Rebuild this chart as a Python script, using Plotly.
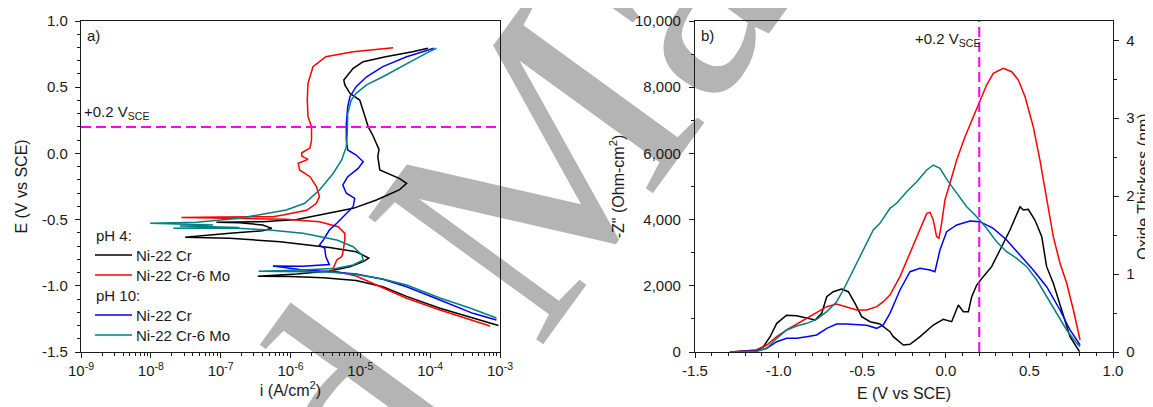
"""Potentiodynamic polarization (a) and -Z'' / oxide thickness vs potential (b)."""

import plotly.graph_objects as go

FONT = "Liberation Sans, Arial, sans-serif"
W, H = 1153, 407
PAGE_PAD = 8  # default <body> margin of the html page

# ---------------- panel a) polarization curves: i (A/cm2), E (V vs SCE) ----------------
ph4_cr_i = [9.5e-4, 4.1e-4, 1.38e-4, 4.6e-5, 2.1e-5, 8.7e-6, 2.95e-6, 9.8e-7, 3.4e-7,
            1.23e-6, 3.6e-6, 7.1e-6, 1.1e-5, 1.32e-5, 8.7e-6, 3.6e-6, 7.1e-7, 1.35e-7, 3.1e-8,
            1.35e-7, 4.0e-7, 5.4e-7, 4.0e-7, 1.86e-7, 8.7e-8,
            4.0e-7, 1.23e-6, 2.6e-6, 7.9e-6, 1.7e-5, 3.6e-5, 4.6e-5, 3.6e-5, 1.9e-5, 1.78e-5,
            1.85e-5, 1.7e-5, 1.5e-5, 1.3e-5, 1.1e-5, 9.8e-6, 7.1e-6, 6.0e-6, 5.8e-6, 6.6e-6,
            7.9e-6, 1.1e-5, 2.3e-5, 5.6e-5, 9.3e-5]
ph4_cr_e = [-1.30, -1.245, -1.17, -1.08, -1.007, -0.96, -0.94, -0.93, -0.927,
            -0.91, -0.888, -0.856, -0.818, -0.79, -0.743, -0.71, -0.667, -0.641, -0.634,
            -0.604, -0.584, -0.566, -0.541, -0.523, -0.520,
            -0.516, -0.50, -0.465, -0.415, -0.352, -0.276, -0.226, -0.188, -0.125, -0.025,
            0.03, 0.076, 0.139, 0.20, 0.328, 0.403, 0.454, 0.517, 0.554, 0.592,
            0.643, 0.693, 0.730, 0.768, 0.794]

ph4_mo_i = [7.2e-4, 1.38e-4, 4.6e-5, 1.9e-5, 8.7e-6, 5.1e-6, 3.9e-6, 4.3e-6, 4.6e-6, 5.4e-6,
            5.6e-6, 6.0e-6, 6.0e-6, 4.8e-6, 2.6e-6, 8.7e-7, 2.95e-7, 1.0e-7, 2.75e-8,
            1.0e-7, 5.6e-7, 7.8e-7, 1.7e-6, 2.35e-6, 2.6e-6, 2.35e-6, 1.9e-6, 1.35e-6, 1.29e-6,
            1.78e-6, 1.45e-6, 1.45e-6, 1.9e-6, 2.0e-6, 2.0e-6, 1.78e-6, 1.74e-6, 1.78e-6, 2.1e-6,
            3.2e-6, 7.9e-6, 2.95e-5]
ph4_mo_e = [-1.304, -1.183, -1.094, -1.007, -0.926, -0.898, -0.886, -0.843, -0.805, -0.78,
            -0.755, -0.654, -0.604, -0.554, -0.516, -0.497, -0.492, -0.489, -0.485,
            -0.481, -0.478, -0.465, -0.43, -0.377, -0.327, -0.25, -0.176, -0.125, -0.075,
            -0.045, -0.02, 0.005, 0.04, 0.10, 0.202, 0.277, 0.403, 0.529, 0.655,
            0.730, 0.768, 0.798]

ph10_cr_i = [8.9e-4, 4.1e-4, 1.38e-4, 4.6e-5, 2.1e-5, 8.7e-6, 3.6e-6, 1.35e-6, 5.6e-7,
             1.5e-6, 3.6e-6, 3.2e-6, 3.1e-6, 2.6e-6, 2.95e-6, 3.6e-6, 4.6e-6, 6.3e-6, 7.9e-6,
             8.3e-6, 6.3e-6, 5.6e-6, 6.6e-6, 9.3e-6, 1.1e-5, 8.7e-6, 6.6e-6, 6.3e-6, 6.3e-6,
             6.6e-6, 7.1e-6, 8.7e-6, 1.23e-5, 2.1e-5, 4.6e-5, 8.7e-5, 1.12e-4]
ph10_cr_e = [-1.258, -1.208, -1.107, -1.007, -0.951, -0.911, -0.893, -0.877, -0.85,
             -0.852, -0.84, -0.78, -0.717, -0.692, -0.654, -0.579, -0.528, -0.452, -0.403,
             -0.339, -0.301, -0.239, -0.176, -0.113, -0.063, -0.012, 0.026, 0.101, 0.227,
             0.353, 0.428, 0.504, 0.579, 0.655, 0.730, 0.776, 0.794]

ph10_mo_i = [8.9e-4, 3.7e-4, 1.38e-4, 4.6e-5, 2.1e-5, 8.7e-6, 3.6e-6, 1.35e-6, 3.5e-7,
             1.51e-6, 4.6e-6, 7.9e-6, 1.1e-5, 1.05e-5, 7.9e-6, 4.6e-6, 1.51e-6, 5.0e-7, 1.7e-7,
             2.1e-8, 1.86e-7, 2.6e-8, 7.8e-8, 9.8e-9,
             4.5e-8, 1.86e-7, 5.0e-7, 8.7e-7, 1.6e-6, 2.6e-6, 4.1e-6, 5.4e-6, 6.3e-6, 6.5e-6,
             6.6e-6, 7.4e-6, 8.7e-6, 1.23e-5, 2.1e-5, 4.6e-5, 8.7e-5, 1.23e-4]
ph10_mo_e = [-1.243, -1.168, -1.092, -0.994, -0.949, -0.914, -0.896, -0.893, -0.890,
             -0.88, -0.868, -0.843, -0.805, -0.767, -0.705, -0.654, -0.603, -0.579, -0.566,
             -0.566, -0.559, -0.549, -0.541, -0.528,
             -0.52, -0.49, -0.452, -0.428, -0.377, -0.276, -0.15, -0.05, 0.05, 0.15,
             0.30, 0.403, 0.454, 0.517, 0.579, 0.68, 0.756, 0.794]

# ---------------- panel b) -Z'' (Ohm-cm2) vs E (V vs SCE) ----------------
zb_cr_e = [-1.291, -1.131, -1.091, -1.051, -1.011, -0.952, -0.892, -0.832, -0.782, -0.742,
           -0.712, -0.673, -0.623, -0.583, -0.543, -0.503, -0.453, -0.394, -0.334, -0.314,
           -0.254, -0.214, -0.154, -0.075, -0.015, 0.035, 0.075, 0.105, 0.135, 0.155,
           0.185, 0.224, 0.274, 0.324, 0.384, 0.444, 0.464, 0.493, 0.533, 0.574,
           0.603, 0.643, 0.703, 0.743, 0.80]
zb_cr_z = [0, 60, 160, 462, 867, 1109, 1097, 1036, 967, 1168,
           1671, 1822, 1903, 1822, 1471, 1067, 916, 846, 614, 463,
           211, 231, 463, 816, 987, 916, 1420, 1219, 1219, 1671,
           2024, 2276, 2578, 3081, 3686, 4390, 4290, 4310, 3988, 3484,
           2578, 2075, 1067, 463, 10]

zb_mo_e = [-1.291, -1.131, -1.071, -1.011, -0.952, -0.892, -0.832, -0.772, -0.712, -0.653,
           -0.593, -0.533, -0.473, -0.413, -0.374, -0.334, -0.274, -0.214, -0.154, -0.114,
           -0.094, -0.075, -0.055, -0.041, -0.025, -0.005, 0.025, 0.065, 0.115, 0.164,
           0.204, 0.244, 0.284, 0.344, 0.394, 0.434, 0.474, 0.523, 0.563, 0.603,
           0.643, 0.683, 0.723, 0.763, 0.803]
zb_mo_z = [0, 45, 211, 463, 665, 846, 1017, 1188, 1369, 1450,
           1369, 1269, 1269, 1369, 1520, 1722, 2276, 2980, 3686, 4189,
           4220, 3988, 3484, 3434, 3887, 4592, 5096, 5800, 6504, 7108,
           7613, 8066, 8419, 8571, 8469, 8217, 7713, 6806, 5800, 4592,
           3484, 2680, 2075, 1269, 363]

zb10_cr_e = [-1.291, -1.131, -1.071, -1.011, -0.952, -0.892, -0.832, -0.772, -0.712, -0.653,
             -0.593, -0.533, -0.473, -0.413, -0.374, -0.334, -0.274, -0.214, -0.154, -0.094,
             -0.065, -0.035, 0.005, 0.065, 0.145, 0.204, 0.284, 0.364, 0.444, 0.523,
             0.603, 0.683, 0.743, 0.803]
zb10_cr_z = [0, 30, 111, 312, 413, 413, 463, 514, 715, 846,
             846, 816, 806, 715, 816, 1168, 1873, 2427, 2527, 2477,
             2427, 3081, 3635, 3837, 3958, 3938, 3736, 3384, 2930, 2477,
             1973, 1269, 665, 211]

zb10_mo_e = [-1.291, -1.131, -1.071, -1.011, -0.952, -0.892, -0.832, -0.772, -0.712, -0.653,
             -0.613, -0.553, -0.493, -0.434, -0.394, -0.334, -0.294, -0.234, -0.174, -0.114,
             -0.075, -0.035, 0.015, 0.065, 0.125, 0.185, 0.244, 0.304, 0.364, 0.424,
             0.484, 0.544, 0.603, 0.663, 0.723, 0.783, 0.803]
zb10_mo_z = [0, 20, 111, 413, 665, 785, 866, 987, 1219, 1520,
             1873, 2477, 3081, 3686, 3887, 4340, 4492, 4843, 5145, 5498,
             5649, 5549, 5145, 4794, 4390, 4088, 3736, 3333, 3031, 2830,
             2578, 2175, 1671, 1168, 665, 262, 161]

# ---------------- ticks ----------------
i_ticks = [1e-9, 1e-8, 1e-7, 1e-6, 1e-5, 1e-4, 1e-3]
i_ticktext = ["10<sup>-9</sup>", "10<sup>-8</sup>", "10<sup>-7</sup>", "10<sup>-6</sup>",
              "10<sup>-5</sup>", "10<sup>-4</sup>", "10<sup>-3</sup>"]
e_ticks = [-1.5, -1.0, -0.5, 0.0, 0.5, 1.0]
e_ticktext = ["-1.5", "-1.0", "-0.5", "0.0", "0.5", "1.0"]
z_ticks = [0, 2000, 4000, 6000, 8000, 10000]
z_ticktext = ["0", "2,000", "4,000", "6,000", "8,000", "10,000"]
thick_ticks = [0, 1, 2, 3, 4]

E_MARK = 0.2  # +0.2 V_SCE reference potential

SERIES = [
    # label, group title, colour, panel a (i, E), panel b (E, Z)
    ("Ni-22 Cr", "pH 4:", "#000000", ph4_cr_i, ph4_cr_e, zb_cr_e, zb_cr_z),
    ("Ni-22 Cr-6 Mo", "pH 4:", "#ff0000", ph4_mo_i, ph4_mo_e, zb_mo_e, zb_mo_z),
    ("Ni-22 Cr", "pH 10:", "#0000ff", ph10_cr_i, ph10_cr_e, zb10_cr_e, zb10_cr_z),
    ("Ni-22 Cr-6 Mo", "pH 10:", "#008080", ph10_mo_i, ph10_mo_e, zb10_mo_e, zb10_mo_z),
]

INK = "#1a1a1a"


def px_x(p):
    """Window pixel column -> paper fraction (the page body adds an 8 px offset)."""
    return (p - PAGE_PAD) / W


def px_y(p):
    return 1 - (p - PAGE_PAD) / H


def axis_style(**kw):
    base = dict(
        showline=True, linecolor=INK, linewidth=1.3, automargin=False,
        ticks="outside", ticklen=5, tickwidth=1.3, tickcolor=INK,
        showgrid=False, zeroline=False,
        tickfont=dict(family=FONT, size=15, color=INK),
        title_font=dict(family=FONT, size=16, color=INK),
    )
    base.update(kw)
    return base


fig = go.Figure()

for label, gtitle, color, ci, ce, ze, zz in SERIES:
    fig.add_trace(go.Scatter(
        x=ci, y=ce, mode="lines", name=label, showlegend=False,
        line=dict(color=color, width=1.5), xaxis="x", yaxis="y",
    ))
    fig.add_trace(go.Scatter(
        x=ze, y=zz, mode="lines", name=label, showlegend=False,
        line=dict(color=color, width=1.5), xaxis="x2", yaxis="y2",
    ))

# empty trace so the oxide thickness axis gets drawn
fig.add_trace(go.Scatter(x=[None], y=[None], xaxis="x2", yaxis="y3",
                         showlegend=False, hoverinfo="skip"))

minor_i = [k * 10.0 ** n for n in range(-9, -3) for k in range(2, 10)]

fig.update_layout(
    width=W, height=H,
    margin=dict(l=0, r=0, t=0, b=0),
    paper_bgcolor="white",
    plot_bgcolor="rgba(0,0,0,0)",
    font=dict(family=FONT, color=INK),
    showlegend=False,
    xaxis=axis_style(
        type="log", domain=[px_x(81), px_x(500)], anchor="y",
        range=[-9, -3], tickvals=i_ticks, ticktext=i_ticktext, mirror=True,
        minor=dict(tickvals=minor_i, ticks="outside", ticklen=3, tickcolor=INK),
        title=dict(text="i (A/cm<sup>2</sup>)", standoff=3),
    ),
    yaxis=axis_style(
        domain=[px_y(352), px_y(21)], anchor="x",
        range=[-1.5, 1.0], tickvals=e_ticks, ticktext=e_ticktext, mirror=True,
        ticklabelstandoff=4,
        minor=dict(dtick=0.1, tick0=0, ticks="outside", ticklen=3, tickcolor=INK),
        title=dict(text="E (V vs SCE)", standoff=10),
    ),
    xaxis2=axis_style(
        domain=[px_x(695), px_x(1113)], anchor="y2",
        range=[-1.5, 1.0], tickvals=e_ticks, ticktext=e_ticktext, mirror=True,
        minor=dict(dtick=0.1, tick0=0, ticks="outside", ticklen=3, tickcolor=INK),
        title=dict(text="E (V vs SCE)", standoff=9),
    ),
    yaxis2=axis_style(
        domain=[px_y(352), px_y(21)], anchor="x2",
        range=[0, 10000], tickvals=z_ticks, ticktext=z_ticktext,
        ticklabelstandoff=5,
        minor=dict(dtick=1000, tick0=0, ticks="outside", ticklen=3, tickcolor=INK),
        title=dict(text="-Z\" (Ohm-cm<sup>2</sup>)", standoff=6),
    ),
    yaxis3=axis_style(
        overlaying="y2", side="right", anchor="x2",
        range=[0, 4.248], tickvals=thick_ticks,
        ticklabelstandoff=4,
        minor=dict(dtick=0.5, tick0=0, ticks="outside", ticklen=3, tickcolor=INK),
        title=dict(text="Oxide Thickess (nm)", standoff=4),
    ),
)

# +0.2 V_SCE markers
fig.add_shape(type="line", xref="x domain", x0=0, x1=1, yref="y", y0=E_MARK, y1=E_MARK,
              line=dict(color="#ff00ff", width=2, dash="10px,5px"))
fig.add_shape(type="line", xref="x2", x0=E_MARK, x1=E_MARK, yref="y2 domain", y0=0, y1=1,
              line=dict(color="#ff00ff", width=2, dash="10px,5px"))

# watermark, drawn underneath the curves
fig.add_shape(type="rect", xref="paper", yref="paper",
              x0=px_x(469), x1=px_x(471), y0=px_y(196), y1=px_y(194),
              line=dict(width=0), layer="below",
              label=dict(text="Accepted Manuscript", textangle=-54,
                         textposition="middle center",
                         font=dict(family="Liberation Serif, Times New Roman, serif",
                                   size=330, color="#b4b4b4")))

# hand-built legend (pH group headings + line samples)
leg_font = dict(family=FONT, size=15, color=INK)
row_y = 235
last_group = None
for label, gtitle, color, *_ in SERIES:
    if gtitle != last_group:
        fig.add_annotation(text=gtitle, xref="paper", yref="paper",
                           x=px_x(94), y=px_y(row_y), xanchor="left", yanchor="middle",
                           showarrow=False, font=leg_font)
        row_y += 20
        last_group = gtitle
    fig.add_shape(type="line", xref="paper", yref="paper",
                  x0=px_x(95), x1=px_x(132), y0=px_y(row_y), y1=px_y(row_y),
                  line=dict(color=color, width=1.5))
    fig.add_annotation(text=label, xref="paper", yref="paper",
                       x=px_x(134), y=px_y(row_y), xanchor="left", yanchor="middle",
                       showarrow=False, font=leg_font)
    row_y += 20

annot_font = dict(family=FONT, size=15, color=INK)
fig.add_annotation(text="a)", xref="paper", yref="paper", x=px_x(85), y=px_y(35),
                   xanchor="left", yanchor="middle", showarrow=False, font=annot_font)
fig.add_annotation(text="b)", xref="paper", yref="paper", x=px_x(699), y=px_y(35),
                   xanchor="left", yanchor="middle", showarrow=False, font=annot_font)
fig.add_annotation(text="+0.2 V<sub>SCE</sub>", xref="paper", yref="paper",
                   x=px_x(82), y=px_y(112), xanchor="left", yanchor="middle",
                   showarrow=False, font=annot_font)
fig.add_annotation(text="+0.2 V<sub>SCE</sub>", xref="paper", yref="paper",
                   x=px_x(982), y=px_y(40), xanchor="right", yanchor="middle",
                   showarrow=False, font=annot_font)

fig.write_html("out.html")
